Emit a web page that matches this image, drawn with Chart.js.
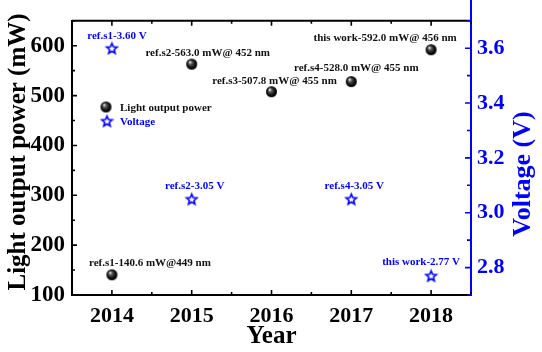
<!DOCTYPE html>
<html>
<head>
<meta charset="utf-8">
<script src="https://cdn.jsdelivr.net/npm/chart.js@4/dist/chart.umd.min.js"></script>
<style>
  html, body { margin: 0; padding: 0; background: #fff; }
  #wrap { width: 542px; height: 352px; position: relative; }
</style>
</head>
<body>
<div id="wrap"><canvas id="chart"></canvas></div>
<script>
const years = [2014, 2015, 2016, 2017, 2018];
const power = [140.6, 563.0, 507.8, 528.0, 592.0];
const powerLabels = ['ref.s1-140.6 mW@449 nm', 'ref.s2-563.0 mW@ 452 nm', 'ref.s3-507.8 mW@ 455 nm', 'ref.s4-528.0 mW@ 455 nm', 'this work-592.0 mW@ 456 nm'];

const voltageYears = [2014, 2015, 2017, 2018];
const voltage = [3.60, 3.05, 3.05, 2.77];
const voltageLabels = ['ref.s1-3.60 V', 'ref.s2-3.05 V', 'ref.s4-3.05 V', 'this work-2.77 V'];

const xTicks = [2014, 2015, 2016, 2017, 2018];
const powerTicks = [100, 200, 300, 400, 500, 600];
const voltageTicks = [2.8, 3.0, 3.2, 3.4, 3.6];

const BLUE = '#0000ff';
const SERIF = '"Liberation Serif", "Times New Roman", serif';

// label offsets from their point, in px
const powerOffsets = [[38, -12], [16, -11], [3, -11], [5, -13], [-46, -12]];
const voltageOffsets = [[5, -12], [3, -13], [3, -13], [-10, -14]];

function makeSphere(r) {
    const c = document.createElement('canvas');
    c.width = c.height = 2 * r + 2;
    const g = c.getContext('2d');
    const m = r + 1;
    const grad = g.createRadialGradient(m - r * 0.35, m - r * 0.4, 0.3, m, m, r);
    grad.addColorStop(0, '#f4f4f4');
    grad.addColorStop(0.3, '#555');
    grad.addColorStop(0.7, '#111');
    grad.addColorStop(1, '#000');
    g.fillStyle = grad;
    g.beginPath();
    g.arc(m, m, r, 0, Math.PI * 2);
    g.fill();
    return c;
}

function makeStar(r) {
    const c = document.createElement('canvas');
    c.width = c.height = 2 * r + 4;
    const g = c.getContext('2d');
    const m = r + 2;
    g.strokeStyle = BLUE;
    g.lineWidth = 1.6;
    g.lineJoin = 'miter';
    g.beginPath();
    for (let i = 0; i < 10; i++) {
        const rr = i % 2 === 0 ? r : r * 0.45;
        const a = -Math.PI / 2 + i * Math.PI / 5;
        const px = m + rr * Math.cos(a), py = m + 0.5 + rr * Math.sin(a);
        if (i === 0) g.moveTo(px, py); else g.lineTo(px, py);
    }
    g.closePath();
    g.stroke();
    return c;
}

const sphere = makeSphere(5.5);
const star = makeStar(5.5);

const decor = {
    id: 'decor',
    afterDraw(chart) {
        const { ctx, chartArea: a, scales } = chart;
        const x = scales.x, y = scales.y, y1 = scales.y1;
        ctx.save();

        // top frame line + blue right line running to the top edge
        ctx.strokeStyle = '#000';
        ctx.lineWidth = 2;
        ctx.beginPath();
        ctx.moveTo(a.left, a.top);
        ctx.lineTo(a.right, a.top);
        ctx.stroke();
        ctx.strokeStyle = BLUE;
        ctx.beginPath();
        ctx.moveTo(a.right, 0);
        ctx.lineTo(a.right, a.bottom);
        ctx.stroke();

        // inward ticks
        const halves = (ticks, lo, hi) => {
            const step = ticks[1] - ticks[0];
            const out = [];
            for (let v = ticks[0] - step / 2; v <= hi + 1e-9; v += step) if (v >= lo - 1e-9) out.push(v);
            return out;
        };
        ctx.lineWidth = 1.6;
        ctx.strokeStyle = '#000';
        ctx.beginPath();
        xTicks.forEach(v => {
            const px = x.getPixelForValue(v);
            ctx.moveTo(px, a.bottom); ctx.lineTo(px, a.bottom - 5);
            ctx.moveTo(px, a.top); ctx.lineTo(px, a.top + 5);
        });
        halves(xTicks, x.min, x.max).forEach(v => {
            const px = x.getPixelForValue(v);
            ctx.moveTo(px, a.bottom); ctx.lineTo(px, a.bottom - 3);
            ctx.moveTo(px, a.top); ctx.lineTo(px, a.top + 3);
        });
        powerTicks.forEach(v => {
            const py = y.getPixelForValue(v);
            ctx.moveTo(a.left, py); ctx.lineTo(a.left + 5, py);
        });
        halves(powerTicks, y.min, y.max).forEach(v => {
            const py = y.getPixelForValue(v);
            ctx.moveTo(a.left, py); ctx.lineTo(a.left + 3, py);
        });
        ctx.stroke();
        ctx.strokeStyle = BLUE;
        ctx.beginPath();
        voltageTicks.forEach(v => {
            const py = y1.getPixelForValue(v);
            ctx.moveTo(a.right + 1, py); ctx.lineTo(a.right - 6, py);
        });
        halves(voltageTicks, y1.min, y1.max).forEach(v => {
            const py = y1.getPixelForValue(v);
            ctx.moveTo(a.right + 1, py); ctx.lineTo(a.right - 4, py);
        });
        ctx.stroke();

        // point labels
        ctx.font = 'bold 11px ' + SERIF;
        ctx.textAlign = 'center';
        ctx.textBaseline = 'middle';
        const pMeta = chart.getDatasetMeta(0).data;
        ctx.fillStyle = '#111';
        pMeta.forEach((el, i) => {
            ctx.fillText(powerLabels[i], el.x + powerOffsets[i][0], el.y + powerOffsets[i][1]);
        });
        const vMeta = chart.getDatasetMeta(1).data;
        ctx.fillStyle = BLUE;
        vMeta.forEach((el, i) => {
            ctx.fillText(voltageLabels[i], el.x + voltageOffsets[i][0], el.y + voltageOffsets[i][1]);
        });

        // legend inside the plot
        ctx.textAlign = 'left';
        ctx.drawImage(sphere, 106 - sphere.width / 2, 107 - sphere.height / 2);
        ctx.fillStyle = '#111';
        ctx.fillText(chart.data.datasets[0].label, 120, 108);
        ctx.drawImage(star, 107 - star.width / 2, 121 - star.height / 2);
        ctx.fillStyle = BLUE;
        ctx.fillText(chart.data.datasets[1].label, 120, 122);

        // axis titles
        ctx.font = 'bold 25px ' + SERIF;
        ctx.textAlign = 'center';
        ctx.fillStyle = '#000';
        ctx.fillText('Year', (a.left + a.right) / 2, 337);
        ctx.save();
        ctx.translate(19, 152);
        ctx.rotate(-Math.PI / 2);
        ctx.fillText('Light output power (mW)', 0, 0);
        ctx.restore();
        ctx.save();
        ctx.fillStyle = BLUE;
        ctx.font = 'bold 26px ' + SERIF;
        ctx.translate(523, 174);
        ctx.rotate(-Math.PI / 2);
        ctx.fillText('Voltage (V)', 0, 0);
        ctx.restore();

        ctx.restore();
    }
};

new Chart(document.getElementById('chart'), {
    type: 'scatter',
    data: {
        datasets: [{
            label: 'Light output power',
            data: years.map((yr, i) => ({ x: yr, y: power[i] })),
            yAxisID: 'y',
            pointStyle: sphere,
            pointRadius: 5
        }, {
            label: 'Voltage',
            data: voltageYears.map((yr, i) => ({ x: yr, y: voltage[i] })),
            yAxisID: 'y1',
            pointStyle: star,
            pointRadius: 6
        }]
    },
    options: {
        responsive: true,
        maintainAspectRatio: false,
        animation: false,
        layout: { padding: { top: 3, left: 0, right: 0, bottom: 0 } },
        plugins: { legend: { display: false }, tooltip: { enabled: false } },
        scales: {
            x: {
                type: 'linear',
                min: 2013.5,
                max: 2018.5,
                afterBuildTicks: s => { s.ticks = xTicks.map(v => ({ value: v })); },
                afterFit: s => { s.height = 57; },
                grid: { display: false, drawTicks: false },
                border: { display: true, color: '#000', width: 2 },
                ticks: {
                    padding: 8,
                    color: '#000',
                    font: { family: SERIF, size: 22, weight: 'bold' },
                    callback: v => String(v)
                }
            },
            y: {
                position: 'left',
                min: 100,
                max: 650,
                afterBuildTicks: s => { s.ticks = powerTicks.map(v => ({ value: v })); },
                afterFit: s => { s.width = 72; },
                grid: { display: false, drawTicks: false },
                border: { display: true, color: '#000', width: 2 },
                ticks: {
                    padding: 7,
                    color: '#000',
                    font: { family: SERIF, size: 23, weight: 'bold' }
                }
            },
            y1: {
                position: 'right',
                min: 2.7,
                max: 3.7,
                afterBuildTicks: s => { s.ticks = voltageTicks.map(v => ({ value: v })); },
                afterFit: s => { s.width = 71; },
                grid: { display: false, drawTicks: false },
                border: { display: true, color: BLUE, width: 2 },
                ticks: {
                    padding: 6,
                    color: BLUE,
                    font: { family: SERIF, size: 22, weight: 'bold' },
                    callback: v => v.toFixed(1)
                }
            }
        }
    },
    plugins: [decor]
});
</script>
</body>
</html>
